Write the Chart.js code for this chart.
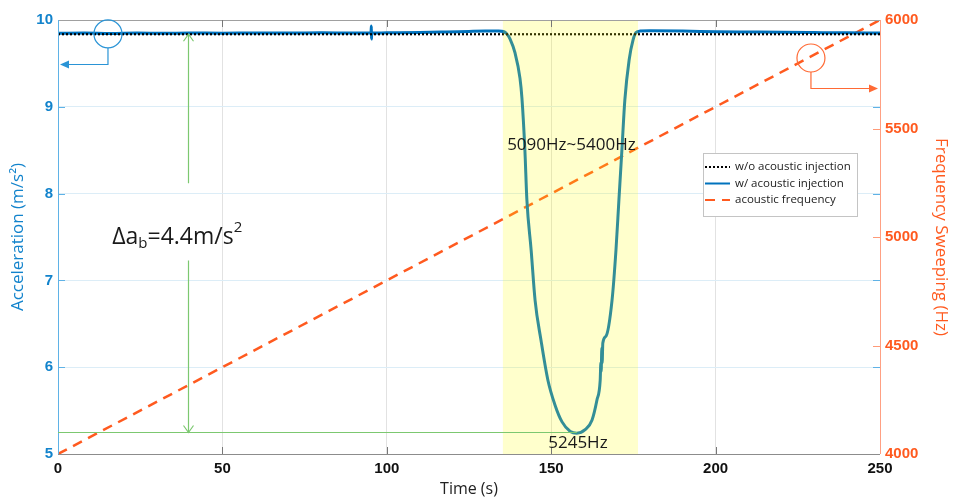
<!DOCTYPE html>
<html lang="en">
<head>
<meta charset="UTF-8">
<title>Acceleration under acoustic injection</title>
<script src="https://cdn.jsdelivr.net/npm/chart.js@4.4.1/dist/chart.umd.min.js"></script>
<style>
  html,body{margin:0;padding:0;background:#fff}
  #wrap{width:954px;height:499px}
</style>
</head>
<body>
<div id="wrap"><canvas id="c" width="954" height="499"></canvas></div>
<script>
// accelerometer reading with the acoustic sweep switched on
const timeWith = [0, 8, 16, 24, 32, 40, 50, 60, 70, 80, 90, 95.2, 95.3, 95.35, 95.4, 95.5, 100, 110, 118, 125, 130, 134,
  135.5, 136.5, 137.5, 139.0, 140.5, 141.1, 142.0, 142.6, 143.9, 145.1, 146.9, 149.0, 151.2, 153.3, 155.8, 157.8,
  160.3, 162.4, 163.9, 164.9, 165.1, 165.2, 165.4, 165.5, 165.7, 166.7, 168.5, 169.7, 170.6, 171.5, 172.4, 173.7,
  174.9, 175.8, 177, 180, 190, 200, 210, 220, 230, 240, 250];
const accelWith = [9.846, 9.849, 9.845, 9.850, 9.847, 9.850, 9.848, 9.851, 9.849, 9.852, 9.850, 9.850, 9.93, 9.78, 9.86, 9.850,
  9.852, 9.856, 9.862, 9.868, 9.872, 9.874,
  9.868, 9.84, 9.78, 9.62, 9.33, 9.10, 8.50, 7.93, 7.35, 6.77, 6.31, 5.85, 5.56, 5.37, 5.26, 5.24,
  5.28, 5.39, 5.62, 5.85, 6.05, 5.95, 6.22, 6.05, 6.28, 6.36, 6.77, 7.35, 7.93, 8.50, 9.08, 9.54,
  9.77, 9.855, 9.872, 9.875, 9.872, 9.866, 9.862, 9.858, 9.855, 9.852, 9.850];

// reference reading without injection
const timeWithout = [0, 250];
const accelWithout = [9.836, 9.836];

// frequency of the acoustic sweep
const timeSweep = [0, 250];
const freqSweep = [4000, 6000];

const timeTicks = [0, 50, 100, 150, 200, 250];
const accelTicks = [5, 6, 7, 8, 9, 10];
const freqTicks = [4000, 4500, 5000, 5500, 6000];

// annotation values
const bandStart = 135.3, bandEnd = 176.4;       // resonance window (s)
const dipTime = 157.8, dipAccel = 5.25;          // minimum of the dip
const deltaTime = 39.5;                          // where the Δa arrow sits
const bandLabel = '5090Hz~5400Hz';
const dipLabel = '5245Hz';

const BLUE = '#0072BD';
const ORANGE = '#FF5A1F';
const TICKBLUE = '#1283cc';
const GREEN = '#7cc870';

function pts(xs, ys) { return xs.map((t, i) => ({ x: t, y: ys[i] })); }

function arrowHeadOpen(ctx, x, y, dir) {
  // dir: 1 = pointing down, -1 = pointing up
  ctx.beginPath();
  ctx.moveTo(x - 5, y - dir * 7);
  ctx.lineTo(x, y);
  ctx.lineTo(x + 5, y - dir * 7);
  ctx.stroke();
}

function arrowHeadFilled(ctx, x, y, dir) {
  // dir: -1 = pointing left, 1 = pointing right
  ctx.beginPath();
  ctx.moveTo(x, y);
  ctx.lineTo(x - dir * 9, y - 4);
  ctx.lineTo(x - dir * 9, y + 4);
  ctx.closePath();
  ctx.fill();
}

const overlay = {
  id: 'overlay',
  afterDatasetsDraw(chart) {
    const { ctx, chartArea: a, scales: { x } } = chart;
    const bx0 = x.getPixelForValue(bandStart), bx1 = x.getPixelForValue(bandEnd);
    ctx.save();
    ctx.fillStyle = 'rgba(255,255,0,0.2)';
    ctx.fillRect(bx0, a.top, bx1 - bx0, a.bottom - a.top);
    ctx.restore();
  },
  afterDraw(chart) {
    const { ctx, chartArea: a, scales: { x, y, y1 } } = chart;
    ctx.save();

    // frame
    ctx.lineWidth = 1;
    ctx.strokeStyle = '#a0a0a0';
    ctx.beginPath();
    ctx.moveTo(a.left, a.top + 0.5); ctx.lineTo(a.right, a.top + 0.5);
    ctx.stroke();
    ctx.strokeStyle = '#8c8c8c';
    ctx.beginPath();
    ctx.moveTo(a.left, a.bottom + 0.5); ctx.lineTo(a.right, a.bottom + 0.5);
    ctx.stroke();
    ctx.strokeStyle = '#5fb2e6';
    ctx.beginPath();
    ctx.moveTo(a.left + 0.5, a.top); ctx.lineTo(a.left + 0.5, a.bottom);
    ctx.stroke();
    ctx.strokeStyle = '#ffa083';
    ctx.beginPath();
    ctx.moveTo(a.right + 0.5, a.top); ctx.lineTo(a.right + 0.5, a.bottom);
    ctx.stroke();

    // inward ticks
    ctx.strokeStyle = '#777';
    timeTicks.slice(1, -1).forEach(t => {
      const px = Math.round(x.getPixelForValue(t)) + 0.5;
      ctx.beginPath();
      ctx.moveTo(px, a.bottom); ctx.lineTo(px, a.bottom - 7);
      ctx.moveTo(px, a.top); ctx.lineTo(px, a.top + 7);
      ctx.stroke();
    });
    ctx.strokeStyle = '#5fb2e6';
    accelTicks.slice(1, -1).forEach(v => {
      const py = Math.round(y.getPixelForValue(v)) + 0.5;
      ctx.beginPath();
      ctx.moveTo(a.left, py); ctx.lineTo(a.left + 7, py);
      ctx.moveTo(a.right, py); ctx.lineTo(a.right - 7, py);
      ctx.stroke();
    });
    ctx.strokeStyle = '#ff9a78';
    freqTicks.slice(1, -1).forEach(v => {
      const py = Math.round(y1.getPixelForValue(v)) + 0.5;
      ctx.beginPath();
      ctx.moveTo(a.right, py); ctx.lineTo(a.right - 7, py);
      ctx.stroke();
    });

    // Δa arrow and dip level
    const ax = Math.round(x.getPixelForValue(deltaTime)) + 0.5;
    const yTop = y.getPixelForValue(accelWithout[0]);
    const yDip = Math.round(y.getPixelForValue(dipAccel)) + 0.5;
    ctx.strokeStyle = GREEN;
    ctx.lineWidth = 1.2;
    ctx.beginPath();
    ctx.moveTo(ax, yTop); ctx.lineTo(ax, y.getPixelForValue(8.12));
    ctx.moveTo(ax, y.getPixelForValue(7.23)); ctx.lineTo(ax, yDip);
    ctx.moveTo(a.left, yDip); ctx.lineTo(x.getPixelForValue(dipTime), yDip);
    ctx.stroke();
    arrowHeadOpen(ctx, ax, yTop, -1);
    arrowHeadOpen(ctx, ax, yDip, 1);

    // blue callout (left axis)
    const cbx = x.getPixelForValue(15.2), cby = y.getPixelForValue(9.84);
    ctx.strokeStyle = '#2a94d6';
    ctx.fillStyle = '#2a94d6';
    ctx.lineWidth = 1.2;
    ctx.beginPath();
    ctx.arc(cbx, cby, 14, 0, Math.PI * 2);
    ctx.stroke();
    const lby = Math.round(y.getPixelForValue(9.49)) + 0.5;
    ctx.beginPath();
    ctx.moveTo(cbx, cby + 14); ctx.lineTo(cbx, lby); ctx.lineTo(a.left + 8, lby);
    ctx.stroke();
    arrowHeadFilled(ctx, a.left + 2, lby, -1);

    // orange callout (right axis)
    const cox = x.getPixelForValue(229), coy = y1.getPixelForValue(5825);
    ctx.strokeStyle = '#ff6a35';
    ctx.fillStyle = '#ff6a35';
    ctx.beginPath();
    ctx.arc(cox, coy, 14, 0, Math.PI * 2);
    ctx.stroke();
    const loy = Math.round(y1.getPixelForValue(5687)) + 0.5;
    ctx.beginPath();
    ctx.moveTo(cox, coy + 14); ctx.lineTo(cox, loy); ctx.lineTo(a.right - 8, loy);
    ctx.stroke();
    arrowHeadFilled(ctx, a.right - 2, loy, 1);

    // texts
    ctx.fillStyle = '#1a1a1a';
    ctx.textBaseline = 'middle';
    ctx.textAlign = 'left';
    ctx.font = '17px "Open Sans"';
    ctx.fillText(bandLabel, x.getPixelForValue(136.6), y.getPixelForValue(8.56));
    ctx.fillText(dipLabel, x.getPixelForValue(149.1), y.getPixelForValue(5.13));

    let tx = x.getPixelForValue(16.5);
    const ty = y.getPixelForValue(7.5);
    const seg = (txt, font, dy) => { ctx.font = font; ctx.fillText(txt, tx, ty + dy); tx += ctx.measureText(txt).width; };
    seg('Δa', '23px "Open Sans"', 0);
    seg('b', '15px "Open Sans"', 7);
    seg('=4.4m/s', '23px "Open Sans"', 0);
    seg('2', '15px "Open Sans"', -9);

    // legend
    const lx = 703, ly = 153, lw = 154, lh = 63;
    ctx.fillStyle = '#fff';
    ctx.fillRect(lx, ly, lw, lh);
    ctx.strokeStyle = '#c4c4c4';
    ctx.lineWidth = 1;
    ctx.strokeRect(lx + 0.5, ly + 0.5, lw, lh);
    ctx.font = '11.5px "Open Sans"';
    ctx.textBaseline = 'middle';
    chart.data.datasets.forEach((ds, i) => {
      const ry = ly + 14 + i * 16.5;
      ctx.strokeStyle = ds.borderColor;
      ctx.lineWidth = 2;
      ctx.setLineDash(ds.borderDash || []);
      ctx.beginPath();
      ctx.moveTo(lx + 2, ry); ctx.lineTo(lx + 27, ry);
      ctx.stroke();
      ctx.setLineDash([]);
      ctx.fillStyle = '#222';
      ctx.fillText(ds.label, lx + 32, ry);
    });

    ctx.restore();
  }
};

const tickFont = { family: 'Liberation Sans', size: 15, weight: 'bold' };

new Chart(document.getElementById('c'), {
  type: 'line',
  data: {
    datasets: [
      { label: 'w/o acoustic injection', data: pts(timeWithout, accelWithout), yAxisID: 'y',
        borderColor: '#000', borderWidth: 2.2, borderDash: [2, 2], pointRadius: 0 },
      { label: 'w/ acoustic injection', data: pts(timeWith, accelWith), yAxisID: 'y',
        borderColor: BLUE, borderWidth: 3, pointRadius: 0, cubicInterpolationMode: 'monotone' },
      { label: 'acoustic frequency', data: pts(timeSweep, freqSweep), yAxisID: 'y1',
        borderColor: ORANGE, borderWidth: 2.5, borderDash: [10, 7], pointRadius: 0 }
    ]
  },
  options: {
    responsive: false,
    devicePixelRatio: 1,
    animation: false,
    layout: { padding: { top: 20, left: 0, right: 0, bottom: 0 } },
    plugins: { legend: { display: false }, tooltip: { enabled: false } },
    scales: {
      x: {
        type: 'linear', min: 0, max: 250,
        afterBuildTicks: s => { s.ticks = timeTicks.map(v => ({ value: v })); },
        afterFit: s => { s.height = 45; },
        ticks: { color: '#111', font: tickFont, padding: 6, maxRotation: 0, callback: v => String(v) },
        grid: { color: c => (c.tick && (c.tick.value === 0 || c.tick.value === 250)) ? 'transparent' : '#e2e2e2', drawTicks: false },
        border: { display: false },
        title: { display: true, text: 'Time (s)', color: '#222', font: { family: 'Open Sans', size: 16 }, padding: { top: 0, bottom: 0 } }
      },
      y: {
        type: 'linear', position: 'left', min: 5, max: 10,
        afterBuildTicks: s => { s.ticks = accelTicks.map(v => ({ value: v })); },
        afterFit: s => { s.width = 58; },
        ticks: { color: TICKBLUE, font: tickFont, padding: 5, callback: v => String(v) },
        grid: { color: c => (c.tick && (c.tick.value === 5 || c.tick.value === 10)) ? 'transparent' : '#dcedf7', drawTicks: false },
        border: { display: false },
        title: { display: true, text: 'Acceleration (m/s²)', color: TICKBLUE, font: { family: 'Open Sans', size: 17 }, padding: { top: 8, bottom: 0 } }
      },
      y1: {
        type: 'linear', position: 'right', min: 4000, max: 6000,
        afterBuildTicks: s => { s.ticks = freqTicks.map(v => ({ value: v })); },
        afterFit: s => { s.width = 74; },
        ticks: { color: ORANGE, font: tickFont, padding: 5, callback: v => String(v) },
        grid: { drawOnChartArea: false, drawTicks: false },
        border: { display: false },
        title: { display: true, text: 'Frequency Sweeping (Hz)', color: ORANGE, font: { family: 'Open Sans', size: 17 }, padding: { top: 3, bottom: 0 } }
      }
    }
  },
  plugins: [overlay]
});
</script>
</body>
</html>
